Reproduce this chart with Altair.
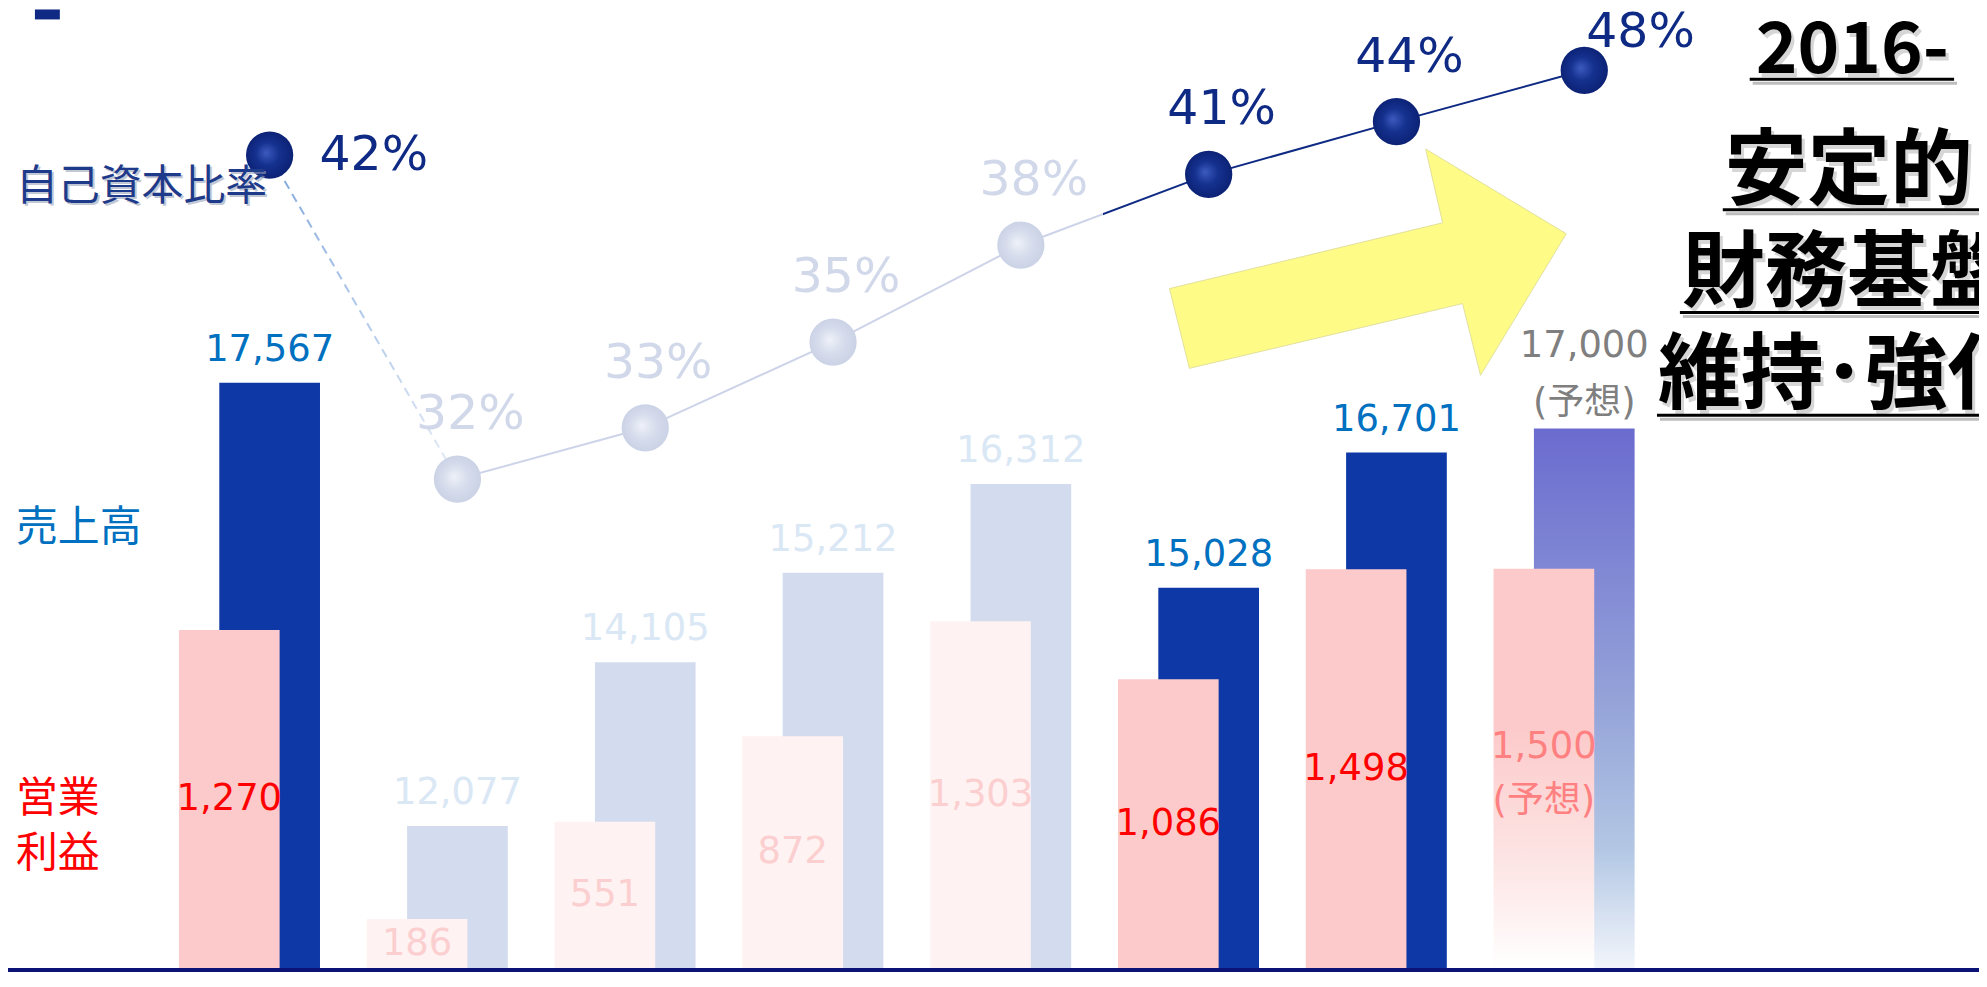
import altair as alt
import pandas as pd

# ---------------- data ----------------
years = ["2008", "2010", "2011", "2012", "2013", "2014", "2015", "2016"]
revenue = [17567, 12077, 14105, 15212, 16312, 15028, 16701, 17000]      # 売上高
op_profit = [1270, 186, 551, 872, 1303, 1086, 1498, 1500]               # 営業利益
equity_ratio = [42, 32, 33, 35, 38, 41, 44, 48]                         # 自己資本比率 (%)
phase = ["hl", "fade", "fade", "fade", "fade", "hl", "hl", "fc"]        # emphasis / forecast

df = pd.DataFrame({"idx": list(range(len(years))), "cat": years, "rev": revenue,
                   "op": op_profit, "eq": equity_ratio, "phase": phase})

W, H = 1977, 962
FONT_NUM = "DejaVu Sans, Noto Sans CJK JP"
FONT_JP = "Noto Sans CJK JP"
NAVY = "#0E2A84"
OFF_R = 20.25
OFF_P = -20.25

xs = alt.X("cat:N", axis=None,
           scale=alt.Scale(domain=years, range=[148, 1655], paddingInner=0, paddingOuter=0))
rev_scale = alt.Scale(domain=[10312, 22188], zero=False, nice=False, clamp=True)
op_scale = alt.Scale(domain=[0, 3599], zero=True, nice=False)
eq_scale = alt.Scale(type="pow", exponent=-3, domain=[32, 48], range=[471, 61],
                     zero=False, nice=False)

base = alt.Chart(df)


def lg(stops, x1=0, y1=0, x2=0, y2=1):
    return alt.LinearGradient(gradient="linear",
                              stops=[alt.GradientStop(color=c, offset=o) for o, c in stops],
                              x1=x1, y1=y1, x2=x2, y2=y2)


def rg(stops):
    return alt.RadialGradient(gradient="radial",
                              stops=[alt.GradientStop(color=c, offset=o) for o, c in stops],
                              x1=0.42, y1=0.45, r1=0, x2=0.5, y2=0.5, r2=0.55)


# ---------------- bars ----------------
rev_y = alt.Y("rev:Q", axis=None, scale=rev_scale)
op_y = alt.Y("op:Q", axis=None, scale=op_scale)

rev_bars = base.transform_filter("datum.phase != 'fc'").mark_bar(size=101, xOffset=OFF_R).encode(
    x=xs, y=rev_y,
    color=alt.Color("phase:N", legend=None,
                    scale=alt.Scale(domain=["hl", "fade"], range=["#0D38A6", "#D3DCEE"])))
rev_fc = base.transform_filter("datum.phase == 'fc'").mark_bar(
    size=101, xOffset=OFF_R,
    color=lg([(0, "#6B6BCF"), (0.5, "#94A2D8"), (0.78, "#B3C7E4"), (1, "#F2F5FB")])).encode(
    x=xs, y=rev_y)

op_bars = base.transform_filter("datum.phase != 'fc'").mark_bar(size=101, xOffset=OFF_P).encode(
    x=xs, y=op_y,
    color=alt.Color("phase:N", legend=None,
                    scale=alt.Scale(domain=["hl", "fade"], range=["#FCCACA", "#FFF2F2"])))
op_fc = base.transform_filter("datum.phase == 'fc'").mark_bar(
    size=101, xOffset=OFF_P,
    color=lg([(0, "#FCCACA"), (0.4, "#FCCACA"), (0.75, "#FDE6E6"), (1, "#FFFFFF")])).encode(
    x=xs, y=op_y)

# ---------------- equity ratio line ----------------
eq_y = alt.Y("eq:Q", axis=None, scale=eq_scale)


def seg(ids, **kw):
    return base.transform_filter(alt.FieldOneOfPredicate(field="idx", oneOf=ids)).mark_line(
        xOffset=OFF_R, **kw).encode(x=xs, y=eq_y, order="idx:Q")


seg_a = seg([0, 1], strokeWidth=2, strokeDash=[9, 6],
            stroke=lg([(0, "#7FA7DE"), (1, "#E6ECF7")], x1=0, y1=0, x2=1, y2=1))
seg_b = seg([1, 2, 3, 4], strokeWidth=2, stroke="#CDD3E8")
seg_c = seg([4, 5], strokeWidth=2,
            stroke=lg([(0, "#CDD3E8"), (0.44, "#CDD3E8"), (0.44, NAVY), (1, NAVY)], x1=0, y1=0, x2=1, y2=0))
seg_d = seg([5, 6, 7], strokeWidth=2, stroke=NAVY)

dots_hl = base.transform_filter("datum.phase != 'fade'").mark_circle(
    size=2250, xOffset=OFF_R, opacity=1,
    fill=rg([(0, "#3C5BBE"), (0.45, "#15318F"), (1, "#0A1F70")])).encode(x=xs, y=eq_y)
dots_fade = base.transform_filter("datum.phase == 'fade'").mark_circle(
    size=2250, xOffset=OFF_R, opacity=1,
    fill=rg([(0, "#EEF1F8"), (0.5, "#D6DCEC"), (1, "#C8D0E4")])).encode(x=xs, y=eq_y)

# ---------------- value labels ----------------
rev_color = alt.Color("phase:N", legend=None,
                      scale=alt.Scale(domain=["hl", "fade", "fc"], range=["#0070C0", "#DAE7F5", "#7F7F7F"]))
num_kw = dict(align="center", fontSize=37, font=FONT_NUM)

rev_lbl = base.transform_filter("datum.phase != 'fc'").transform_calculate(
    lbl="format(datum.rev, ',')").mark_text(dx=OFF_R, dy=-14, baseline="bottom", **num_kw).encode(
    x=xs, y=rev_y, text="lbl:N", color=rev_color)
rev_fc_num = base.transform_filter("datum.phase == 'fc'").transform_calculate(
    lbl="format(datum.rev, ',')").mark_text(dx=OFF_R, dy=-64, baseline="bottom", **num_kw).encode(
    x=xs, y=rev_y, text="lbl:N", color=rev_color)
rev_fc_note = base.transform_filter("datum.phase == 'fc'").transform_calculate(
    lbl="'(予想)'").mark_text(dx=OFF_R, dy=-6, baseline="bottom", **num_kw).encode(
    x=xs, y=rev_y, text="lbl:N", color=rev_color)

op_color = alt.Color("phase:N", legend=None,
                     scale=alt.Scale(domain=["hl", "fade", "fc"], range=["#FF0000", "#FBCFCF", "#FF8080"]))
op_mid_y = alt.Y("mid:Q", axis=None, scale=op_scale)
op_lbl = base.transform_filter("datum.phase != 'fc'").transform_calculate(
    mid="datum.op * 0.5", lbl="format(datum.op, ',')").mark_text(
    dx=OFF_P, baseline="middle", **num_kw).encode(x=xs, y=op_mid_y, text="lbl:N", color=op_color)
op_fc_lbl = base.transform_filter("datum.phase == 'fc'").transform_calculate(
    mid="datum.op * 0.5", lbl="format(datum.op, ',') + '\\n(予想)'").mark_text(
    dx=OFF_P, dy=-22, baseline="middle", lineBreak="\n", lineHeight=54, **num_kw).encode(
    x=xs, y=op_mid_y, text="lbl:N", color=op_color)

pct_color = alt.Color("phase:N", legend=None,
                      scale=alt.Scale(domain=["hl", "fade", "fc"], range=[NAVY, "#D1D8E9", NAVY]))


def pct(ids, **kw):
    return base.transform_filter(alt.FieldOneOfPredicate(field="idx", oneOf=ids)).transform_calculate(
        lbl="datum.eq + '%'").mark_text(fontSize=49, font=FONT_NUM, baseline="alphabetic", **kw).encode(
        x=xs, y=eq_y, text="lbl:N", color=pct_color)


pct_first = pct([0], align="left", dx=OFF_R + 50, dy=15)
pct_mid = pct([1, 2, 3, 4, 5, 6], align="center", dx=OFF_R + 13, dy=-50)
pct_last = pct([7], align="left", dx=OFF_R + 2, dy=-23)

# ---------------- annotation texts ----------------
one = pd.DataFrame({"k": [0]})


def txt(t, x, y, **kw):
    return alt.Chart(pd.DataFrame({"t": [t]})).mark_text(**kw).encode(
        x=alt.value(x), y=alt.value(y), text="t:N")


def rule(x1, x2, y, color, w):
    return alt.Chart(one).mark_rule(color=color, strokeWidth=w).encode(
        x=alt.value(x1), x2=alt.value(x2), y=alt.value(y))


jp_kw = dict(align="left", baseline="alphabetic", fontSize=42, font=FONT_JP)
left_labels = [
    txt("自己資本比率", 10, 193, color="#9AA3B8", opacity=0.6, **jp_kw),
    txt("自己資本比率", 8, 191, color="#1E3A8A", **jp_kw),
    txt("売上高", 8, 533, color="#0070C0", **jp_kw),
    txt("営業", 8, 805, color="#FF0000", **jp_kw),
    txt("利益", 8, 860, color="#FF0000", **jp_kw),
]

right_specs = [
    ("2016-", 1850, 64, 71, "center"),
    ("安定的", 1722, 189, 83, "left"),
    ("財務基盤", 1679, 291, 83, "left"),
    ("維持･強化", 1655, 394, 83, "left"),
]
right_texts = []
for t, x, y, fs, al in right_specs:
    right_texts.append(txt(t, x + 3, y + 4, align=al, baseline="alphabetic", fontSize=fs, font=FONT_JP,
                           fontWeight="bold", color="#B5B5B5", opacity=0.55))
for t, x, y, fs, al in right_specs:
    right_texts.append(txt(t, x, y, align=al, baseline="alphabetic", fontSize=fs, font=FONT_JP,
                           fontWeight="bold", color="#000000"))

underlines = []
for x1, x2, y in [(1747, 1952, 70), (1720, 2000, 201), (1677, 2000, 304), (1654, 2000, 407)]:
    underlines.append(rule(x1 + 3, x2 + 3, y + 4, "#BDBDBD", 3))
    underlines.append(rule(x1, x2, y, "#000000", 3))

arrow_path = ("M -0.995 0.135 L -0.895 0.535 L 0.475 0.21 L 0.565 0.57 "
              "L 0.995 -0.14 L 0.29 -0.565 L 0.375 -0.195 Z")
arrow = alt.Chart(one).mark_point(shape=arrow_path, size=160000, filled=True, opacity=1,
                                  fill="#FEFC86", stroke="#E2E09C", strokeWidth=1).encode(
    x=alt.value(1364), y=alt.value(253))

bottom_line = rule(0, W, 963.5, "#0B1377", 4)
corner = alt.Chart(one).mark_rect(color=NAVY).encode(
    x=alt.value(27), x2=alt.value(52), y=alt.value(0), y2=alt.value(10))

layers = ([rev_bars, rev_fc, op_bars, op_fc, seg_a, seg_b, seg_c, seg_d, dots_fade, dots_hl,
           arrow, rev_lbl, rev_fc_num, rev_fc_note, op_lbl, op_fc_lbl, pct_first, pct_mid, pct_last]
          + left_labels + right_texts + underlines + [bottom_line, corner])

chart = alt.layer(*layers).resolve_scale(y="independent", color="independent").properties(
    width=W, height=H,
    padding={"left": 0, "top": 0, "right": 0, "bottom": 5},
    autosize=alt.AutoSizeParams(type="none"),
).configure_view(stroke=None)

chart.save("out.html", embed_options={"renderer": "svg", "actions": False})
